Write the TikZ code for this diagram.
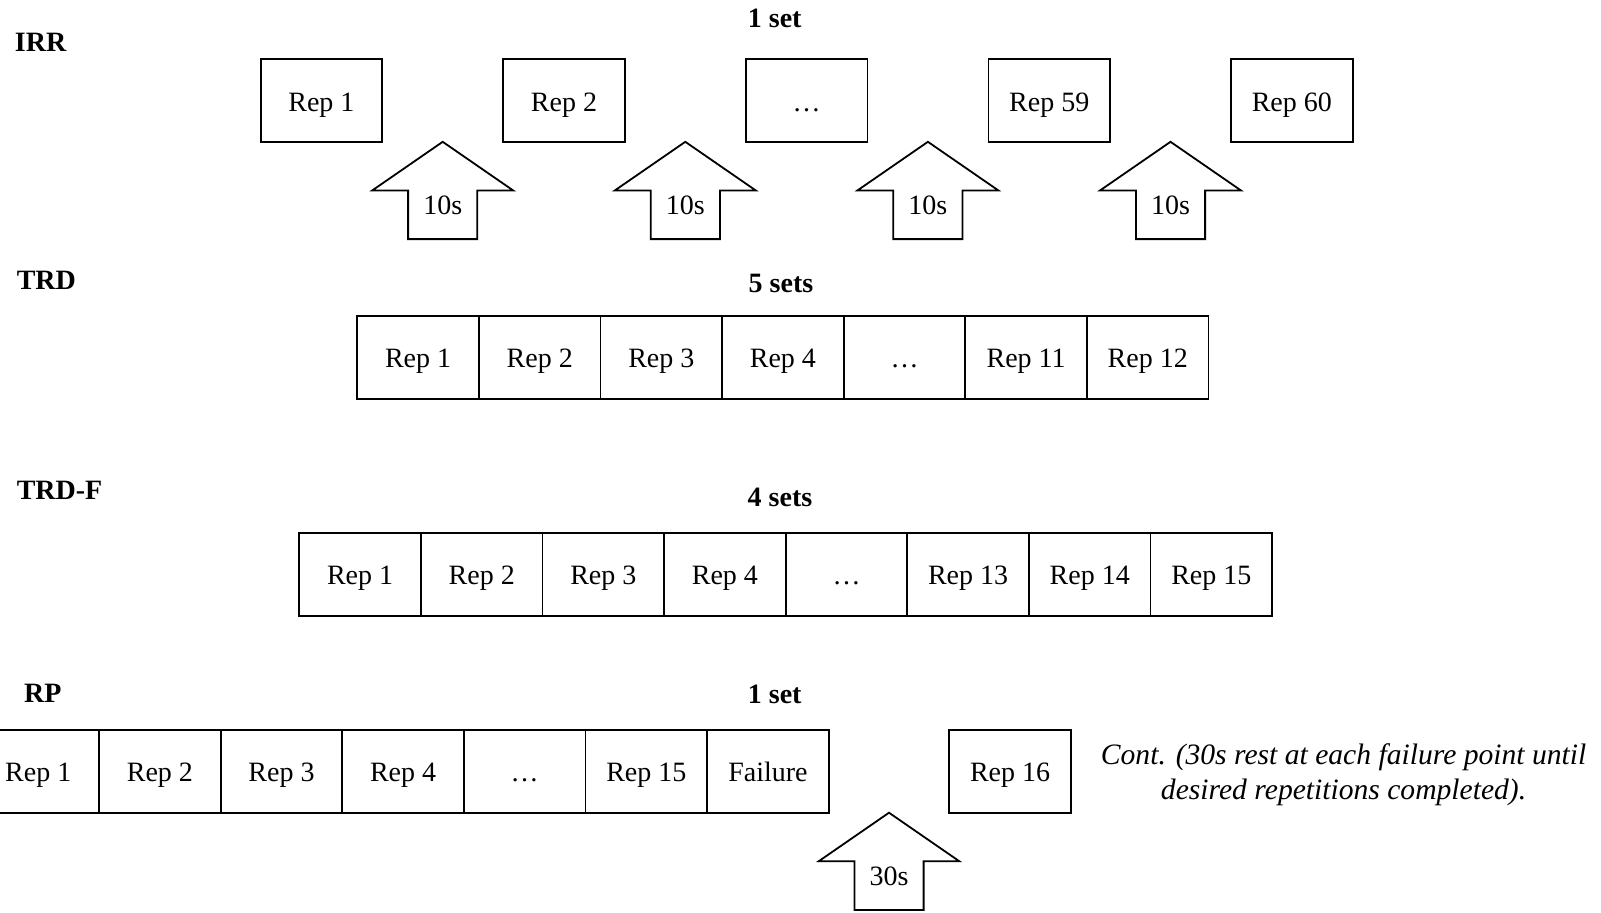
\documentclass[tikz,border=0pt]{standalone}
\usepackage{fontspec}
\setmainfont{Liberation Serif}
\usetikzlibrary{positioning,calc}

\newcommand{\basefont}{\fontsize{14pt}{17.35pt}\selectfont}

\tikzset{
  repbox/.style={draw, line width=0.9pt, minimum width=60.8pt, minimum height=41.3pt,
    inner sep=0pt, outer sep=0pt, text height=10.5pt, text depth=0pt, font=\basefont},
  rowlabel/.style={anchor=base west, inner sep=0pt, font=\basefont\bfseries},
  setlabel/.style={anchor=base, font=\basefont\bfseries},
  pics/rest/.style={code={
    \draw[line width=0.9pt, line join=miter] (0,0) -- (70.4,48.6) -- (34.6,48.6) -- (34.6,97.3)
      -- (-34.6,97.3) -- (-34.6,48.6) -- (-70.4,48.6) -- cycle;
    \node[anchor=base, font=\basefont] (-lbl) at (0,72.4) {#1};
  }},
}

\begin{document}
\begin{tikzpicture}[x=0.5pt, y=-0.5pt]
  \useasboundingbox (0,0) rectangle (1601,912);

  % IRR : 1 set, 10s entre chaque rep
  \node[rowlabel] (irrlabel) at (14.5,51.7) {IRR};
  \node[setlabel] (irrsets) at (774.7,27.2) {1 set};
  \foreach \lbl [count=\i] in {Rep 1, Rep 2, …, Rep 59, Rep 60}
    \node[repbox] (irr\i) at ({321.4+242.6*(\i-1)},100.5) {\lbl};
  \foreach \i in {1,...,4} {
    \pgfmathtruncatemacro\nxt{\i+1}
    \coordinate (irrtip\i) at ($(irr\i.south east)!0.5!(irr\nxt.south west)$);
    \pic (irrrest\i) at (irrtip\i) {rest=10s};
  }

  % TRD : 5 sets
  \node[rowlabel] (trdlabel) at (16.4,289.3) {TRD};
  \node[setlabel] (trdsets) at (781,292) {5 sets};
  \node[repbox] (trd1) at (418.1,357.4) {Rep 1};
  \foreach \lbl [count=\i from 2] in {Rep 2, Rep 3, Rep 4, …, Rep 11, Rep 12} {
    \pgfmathtruncatemacro\prev{\i-1}
    \node[repbox, right=0pt of trd\prev] (trd\i) {\lbl};
  }

  % TRD-F : 4 sets
  \node[rowlabel] (trdflabel) at (16.4,499) {TRD-F};
  \node[setlabel] (trdfsets) at (780,506) {4 sets};
  \node[repbox] (trdf1) at (360.1,574.3) {Rep 1};
  \foreach \lbl [count=\i from 2] in {Rep 2, Rep 3, Rep 4, …, Rep 13, Rep 14, Rep 15} {
    \pgfmathtruncatemacro\prev{\i-1}
    \node[repbox, right=0pt of trdf\prev] (trdf\i) {\lbl};
  }

  % RP : 1 set jusqu'a l'echec, puis 30s
  \node[rowlabel] (rplabel) at (23.8,702.5) {RP};
  \node[setlabel] (rpsets) at (774.7,703.3) {1 set};
  \node[repbox] (rp1) at (38.3,771.4) {Rep 1};
  \foreach \lbl [count=\i from 2] in {Rep 2, Rep 3, Rep 4, …, Rep 15, Failure} {
    \pgfmathtruncatemacro\prev{\i-1}
    \node[repbox, right=0pt of rp\prev] (rp\i) {\lbl};
  }
  \node[repbox] (rp16) at (1010.1,771.4) {Rep 16};
  \coordinate (rptip) at ($(rp7.south east)!0.5!(rp16.south west)$);
  \pic (rprest) at (rptip) {rest=30s};
  \node[font=\fontsize{14.8pt}{17.6pt}\selectfont\itshape, align=center] (rpnote) at (1343.6,775)
    {Cont. (30s rest at each failure point until\\desired repetitions completed).};
\end{tikzpicture}
\end{document}
